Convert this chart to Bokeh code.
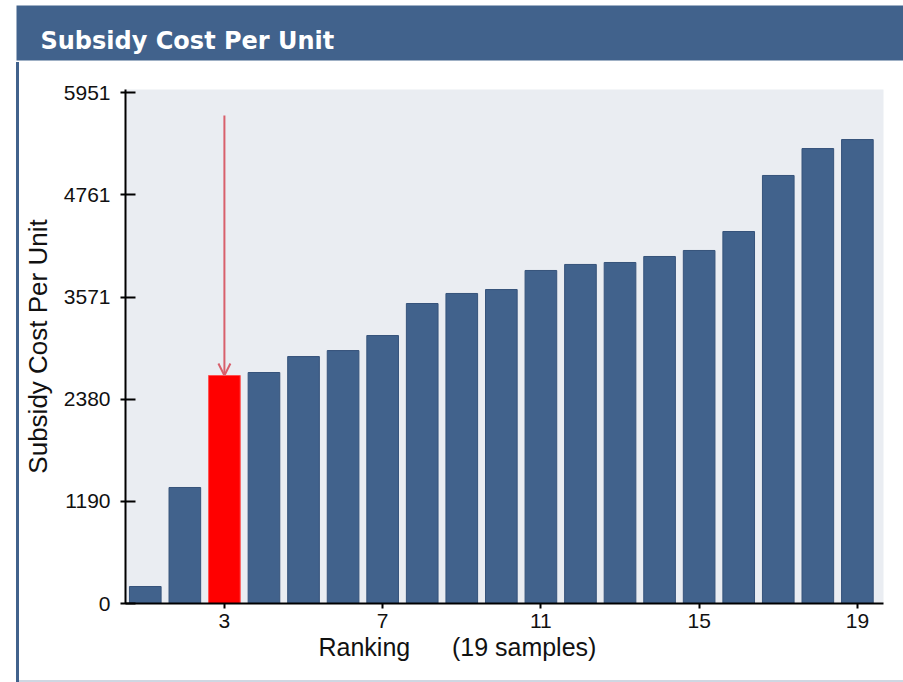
from bokeh.plotting import figure
from bokeh.models import Range1d, FixedTicker, Label, Arrow, OpenHead, Spacer, ColumnDataSource, Title
from bokeh.layouts import column, row
from bokeh.embed import file_html
from bokeh.resources import INLINE

# ---------------- data ----------------
title_text = "Subsidy Cost Per Unit"
ranks = list(range(1, 20))
costs = [198, 1352, 2657, 2692, 2878, 2948, 3123, 3496, 3613, 3659,
         3881, 3951, 3974, 4044, 4114, 4335, 4988, 5302, 5407]
highlight_rank = 3
arrow_top = 5687
y_ticks = [0, 1190, 2380, 3571, 4761, 5951]
x_ticks = [3, 7, 11, 15, 19]
y_label = "Subsidy Cost Per Unit"
x_label = "Ranking" + "\u00a0" * 6 + "(19 samples)"

# ---------------- styles ----------------
BLUE = "#41628c"
BAR_LINE = "#36537b"
RED = "#ff0000"
ARROW = "#d8606c"
PLOT_BG = "#eaedf2"
FONT = "Liberation Sans"
TEXT = "#111111"

# ---------------- header ----------------
header = figure(width=903, height=62, x_range=Range1d(0, 887), y_range=Range1d(0, 55),
                x_axis_type=None, y_axis_type=None, toolbar_location=None,
                output_backend="svg", min_border_left=16, min_border_right=0,
                min_border_top=5, min_border_bottom=2)
header.background_fill_color = BLUE
header.border_fill_color = "white"
header.outline_line_color = None
header.add_layout(Label(x=24, y=20, text=title_text, text_color="white",
                        text_font="DejaVu Sans", text_font_style="bold",
                        text_font_size="24px", text_baseline="alphabetic"))

# ---------------- main chart ----------------
p = figure(width=884, height=618, x_range=Range1d(0.5, 19.66), y_range=Range1d(0, 5990),
           toolbar_location=None, output_backend="svg",
           min_border_left=106, min_border_right=20, min_border_top=27, min_border_bottom=77)
p.background_fill_color = PLOT_BG
p.border_fill_color = "white"
p.outline_line_color = None
p.grid.visible = False

colors = [RED if r == highlight_rank else BLUE for r in ranks]
lines = ["#ff5050" if r == highlight_rank else BAR_LINE for r in ranks]
src = ColumnDataSource(dict(rank=ranks, cost=costs, color=colors, line=lines))
p.vbar(x="rank", top="cost", width=0.8, source=src, fill_color="color", line_color="line",
       line_width=1)

p.add_layout(Arrow(end=OpenHead(size=12, line_color=ARROW, line_width=2),
                   x_start=highlight_rank, y_start=arrow_top,
                   x_end=highlight_rank, y_end=costs[highlight_rank - 1],
                   line_color=ARROW, line_width=2))

p.xaxis.ticker = FixedTicker(ticks=x_ticks)
p.yaxis.ticker = FixedTicker(ticks=y_ticks)
for ax in (p.xaxis, p.yaxis):
    ax.axis_line_color = "black"
    ax.axis_line_width = 2
    ax.major_tick_line_color = "black"
    ax.major_tick_line_width = 2
    ax.minor_tick_line_color = None
    ax.major_label_text_font = FONT
    ax.major_label_text_font_size = "21px"
    ax.major_label_text_color = TEXT
p.yaxis.major_tick_out = 5
p.yaxis.major_tick_in = 10
p.yaxis.major_label_standoff = 10
p.xaxis.major_tick_out = 5
p.xaxis.major_tick_in = 0
p.xaxis.major_label_standoff = 5

p.yaxis.axis_label = y_label
p.yaxis.axis_label_text_font = FONT
p.yaxis.axis_label_text_font_size = "26px"
p.yaxis.axis_label_text_font_style = "normal"
p.yaxis.axis_label_text_color = TEXT
p.yaxis.axis_label_standoff = 8

p.add_layout(Title(text=x_label, align="left", offset=193, standoff=0,
                   text_font=FONT, text_font_size="25px", text_font_style="normal",
                   text_color=TEXT), "below")

# ---------------- frame decoration ----------------
left_pad = Spacer(width=16, height=618)
left_line = Spacer(width=3, height=618, styles={"background-color": BLUE})
bottom = row(Spacer(width=16, height=2), Spacer(width=3, height=2, styles={"background-color": BLUE}),
             Spacer(width=884, height=2, styles={"background-color": "#cfd7e2"}))

layout = column(header, row(left_pad, left_line, p), bottom)

open("out.html", "w").write(file_html(layout, INLINE))
